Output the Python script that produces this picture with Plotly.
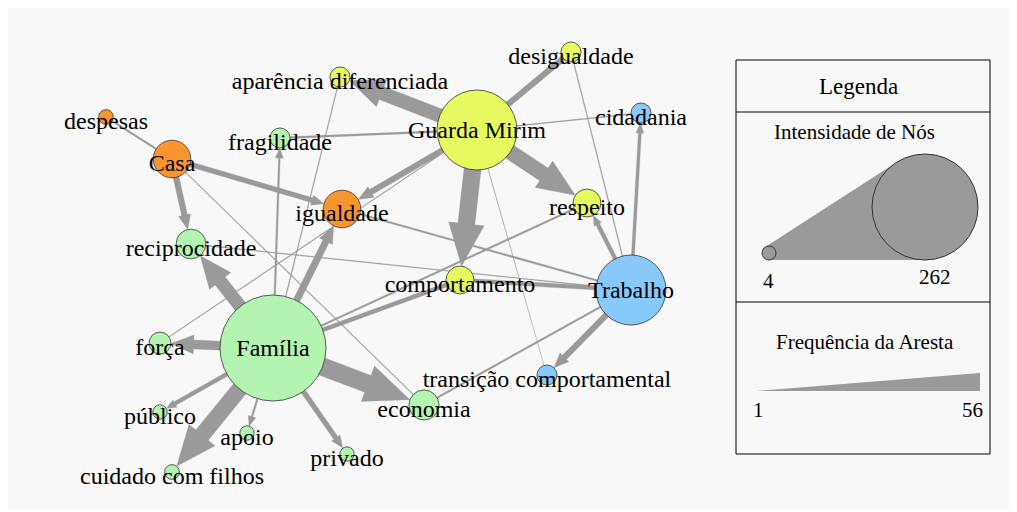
import numpy as np
import plotly.graph_objects as go

# nodes: name, layout position, intensity, group colour
nodes = ["Guarda Mirim", "Família", "Trabalho", "Casa", "igualdade", "reciprocidade",
         "respeito", "comportamento", "economia", "desigualdade", "aparência diferenciada",
         "cidadania", "transição comportamental", "fragilidade", "força", "despesas",
         "público", "apoio", "privado", "cuidado com filhos"]
node_x = [477, 273, 631, 172, 342, 191, 587, 460, 424, 571, 340, 641, 547, 280, 160, 106, 160, 247, 347, 172]
node_y = [130, 348, 290, 159, 209, 244, 203, 280, 405, 52, 77, 113, 375, 138, 343, 117, 412, 433, 454, 472]
intensity = [189, 262, 161, 70, 70, 48, 43, 43, 49, 21, 21, 21, 21, 21, 26, 6, 5, 5, 5, 6]
group = ["GM", "F", "T", "C", "C", "F", "GM", "GM", "F", "GM", "GM", "T", "T", "F", "F", "C", "F", "F", "F", "F"]

# edges: source, target, frequency
edge_src = ["Guarda Mirim", "Guarda Mirim", "Guarda Mirim", "Guarda Mirim", "Guarda Mirim",
            "Guarda Mirim", "Guarda Mirim", "Guarda Mirim",
            "Família", "Família", "Família", "Família", "Família", "Família", "Família",
            "Família", "Família", "Família", "Família", "Família",
            "Casa", "Casa", "Casa", "Casa",
            "Trabalho", "Trabalho", "Trabalho", "Trabalho", "Trabalho", "Trabalho", "Trabalho", "Trabalho",
            "força"]
edge_dst = ["aparência diferenciada", "desigualdade", "respeito", "comportamento", "igualdade",
            "fragilidade", "cidadania", "transição comportamental",
            "reciprocidade", "força", "igualdade", "fragilidade", "aparência diferenciada", "economia",
            "cuidado com filhos", "público", "apoio", "privado", "comportamento", "respeito",
            "despesas", "igualdade", "reciprocidade", "economia",
            "cidadania", "respeito", "transição comportamental", "economia", "igualdade",
            "reciprocidade", "comportamento", "desigualdade",
            "Guarda Mirim"]
edge_freq = [43, 18, 47, 53, 18, 5, 2, 1,
             40, 28, 21, 5, 2, 56, 50, 12, 5, 15, 12, 5,
             5, 15, 18, 2,
             9, 12, 18, 5, 5, 2, 12, 2,
             2]
edge_arrow = [1, 0, 1, 1, 1, 0, 0, 0,
              1, 1, 1, 1, 0, 1, 1, 1, 1, 1, 0, 0,
              0, 1, 1, 0,
              1, 1, 1, 0, 0, 0, 0, 0,
              0]

colors = {"GM": "#e6f95f", "F": "#b2f4b0", "T": "#87c9fa", "C": "#f8952f"}
V_MIN, V_MAX = 4, 262
F_MIN, F_MAX = 1, 56
FONT = "Liberation Serif, Times New Roman, serif"
GREY = "#9a9a9a"
PAGE_PAD = 8  # the html body margin shifts the figure by this much


def node_r(v):
    return 7 + (v - V_MIN) / (V_MAX - V_MIN) * 46


def edge_w(f):
    return 0.5 + (f - F_MIN) / (F_MAX - F_MIN) * 17.5


pos = {n: np.array([x, y], float) for n, x, y in zip(nodes, node_x, node_y)}
rad = {n: node_r(v) for n, v in zip(nodes, intensity)}

ex, ey = [], []
for s, t, f, arr in zip(edge_src, edge_dst, edge_freq, edge_arrow):
    p0, p1 = pos[s], pos[t]
    d = (p1 - p0) / np.linalg.norm(p1 - p0)
    n = np.array([-d[1], d[0]])
    w = edge_w(f)
    if arr:
        tip = p1 - d * rad[t]
        hl, hw = max(10, 2.5 * w), max(8, 2.1 * w)
        base = tip - d * hl
        pts = [p0 + n * w / 2, base + n * w / 2, base + n * hw / 2, tip,
               base - n * hw / 2, base - n * w / 2, p0 - n * w / 2]
    else:
        pts = [p0 + n * w / 2, p1 + n * w / 2, p1 - n * w / 2, p0 - n * w / 2]
    for p in pts + [pts[0]]:
        ex.append(p[0])
        ey.append(p[1])
    ex.append(None)
    ey.append(None)

# labels sit a little under the centre of the small vertices
label_y = [y + (2 if rad[n] > 30 else 6) for n, y in zip(nodes, node_y)]

fig = go.Figure()
fig.add_trace(go.Scatter(x=ex, y=ey, mode="lines", fill="toself", fillcolor=GREY,
                         line=dict(width=0.3, color=GREY), hoverinfo="skip"))
fig.add_trace(go.Scatter(x=node_x, y=node_y, mode="markers",
                         marker=dict(size=[2 * rad[n] for n in nodes],
                                     color=[colors[g] for g in group],
                                     line=dict(color="#333333", width=0.8), opacity=1),
                         hoverinfo="text", text=nodes))
fig.add_trace(go.Scatter(x=node_x, y=label_y, mode="text", text=nodes,
                         textposition="middle center",
                         textfont=dict(family=FONT, size=24, color="black"), hoverinfo="skip"))

shapes = [dict(type="rect", x0=5, y0=7, x1=1012, y1=510, fillcolor="#f8f8f8",
               line=dict(width=0), layer="below")]

# legend box
shapes += [dict(type="rect", x0=736, y0=60, x1=990, y1=454, line=dict(color="black", width=1)),
           dict(type="line", x0=736, y0=112, x1=990, y1=112, line=dict(color="black", width=1)),
           dict(type="line", x0=736, y0=302, x1=990, y1=302, line=dict(color="black", width=1))]

# node intensity legend: two bottom aligned circles joined by tangents
r1, r2 = node_r(V_MIN), node_r(V_MAX)
c1 = np.array([769, 260 - r1])
c2 = np.array([925, 260 - r2])
dv = c2 - c1
L = np.linalg.norm(dv)
u = dv / L
perp = np.array([u[1], -u[0]])
cosb = (r1 - r2) / L
sinb = np.sqrt(1 - cosb ** 2)
nrm = u * cosb + perp * sinb
t1, t2 = c1 + nrm * r1, c2 + nrm * r2
wedge = [t1, t2, np.array([c2[0], 260]), np.array([c1[0], 260])]
path = "M " + " L ".join(f"{p[0]:.1f},{p[1]:.1f}" for p in wedge) + " Z"
shapes.append(dict(type="path", path=path, fillcolor=GREY, line=dict(width=0)))
for c, r in [(c1, r1), (c2, r2)]:
    shapes.append(dict(type="circle", x0=c[0] - r, x1=c[0] + r, y0=c[1] - r, y1=c[1] + r,
                       fillcolor=GREY, line=dict(color="#333333", width=1)))

# edge frequency legend wedge
wmax = edge_w(F_MAX)
shapes.append(dict(type="path",
                   path=f"M 756,391 L 980,{391 - wmax:.1f} L 980,391 Z",
                   fillcolor=GREY, line=dict(width=0)))

ann = [
    dict(x=858, y=86, text="Legenda", size=23),
    dict(x=854, y=132, text="Intensidade de Nós", size=21),
    dict(x=768, y=281, text=str(V_MIN), size=21),
    dict(x=935, y=277, text=str(V_MAX), size=21),
    dict(x=865, y=342, text="Frequência da Aresta", size=21),
    dict(x=758, y=410, text=str(F_MIN), size=21),
    dict(x=972, y=410, text=str(F_MAX), size=21),
]
annotations = [dict(x=a["x"], y=a["y"], text=a["text"], showarrow=False, xref="x", yref="y",
                    xanchor="center", yanchor="middle",
                    font=dict(family=FONT, size=a["size"], color="black")) for a in ann]

fig.update_layout(
    width=1017, height=512, margin=dict(l=0, r=0, t=0, b=0),
    paper_bgcolor="white", plot_bgcolor="white", showlegend=False,
    shapes=shapes, annotations=annotations,
    xaxis=dict(range=[PAGE_PAD, 1017 + PAGE_PAD], visible=False, fixedrange=True),
    yaxis=dict(range=[512 + PAGE_PAD, PAGE_PAD], visible=False, fixedrange=True),
)
fig.write_html("out.html")
